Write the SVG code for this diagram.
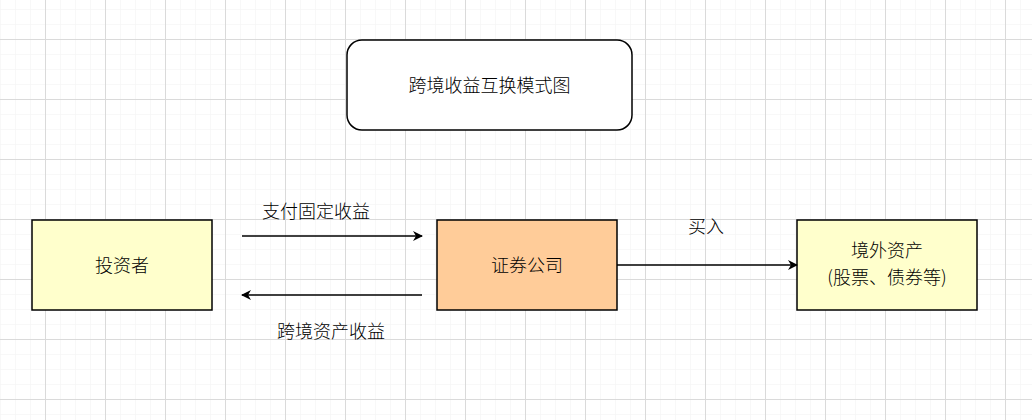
<svg xmlns="http://www.w3.org/2000/svg" width="1032" height="420" viewBox="0 0 1032 420">
<defs>
<pattern id="minor" x="0" y="9" width="15" height="15" patternUnits="userSpaceOnUse">
<path d="M0 0H15M0 0V15" fill="none" stroke="#f2f2f2" stroke-width="1"/>
</pattern>
<pattern id="major" x="45" y="39" width="60" height="60" patternUnits="userSpaceOnUse">
<path d="M0 0.5H60M0.5 0V60" fill="none" stroke="#dadada" stroke-width="1"/>
</pattern>
<marker id="arr" viewBox="0 0 10 10" refX="9" refY="5" markerWidth="10" markerHeight="10" markerUnits="userSpaceOnUse" orient="auto">
<path d="M0 0L10 5L0 10L3 5Z" fill="#000"/>
</marker>
</defs>
<style>
.box{stroke:#000;stroke-width:1.5}
.t{font-family:"Noto Sans CJK SC","Liberation Sans",sans-serif;font-size:18px;font-weight:300;fill:#000;text-anchor:middle}
.c{stroke:#000;stroke-width:1.5;fill:none;marker-end:url(#arr)}
</style>
<rect width="1032" height="420" fill="#fff"/>
<rect width="1032" height="420" fill="url(#minor)"/>
<rect width="1032" height="420" fill="url(#major)"/>
<g id="title">
<rect class="box" x="347" y="40" width="285" height="90" rx="15" fill="#fff"/>
<text class="t" x="489.5" y="92">跨境收益互换模式图</text>
</g>
<g id="investor">
<rect class="box" x="32" y="220" width="180" height="90" fill="#ffffcc"/>
<text class="t" x="122" y="272">投资者</text>
</g>
<g id="broker">
<rect class="box" x="437" y="220" width="180" height="90" fill="#ffcc99"/>
<text class="t" x="527" y="272">证券公司</text>
</g>
<g id="overseas">
<rect class="box" x="797" y="220" width="180" height="90" fill="#ffffcc"/>
<text class="t" x="887" y="257">境外资产</text>
<text class="t" x="887" y="284">(股票、债券等)</text>
</g>
<g id="connectors">
<path class="c" d="M242 236H422"/>
<path class="c" d="M422 295H242"/>
<path class="c" d="M617 265H797"/>
<text class="t" x="316" y="218">支付固定收益</text>
<text class="t" x="331" y="338">跨境资产收益</text>
<text class="t" x="706" y="233">买入</text>
</g>
</svg>
